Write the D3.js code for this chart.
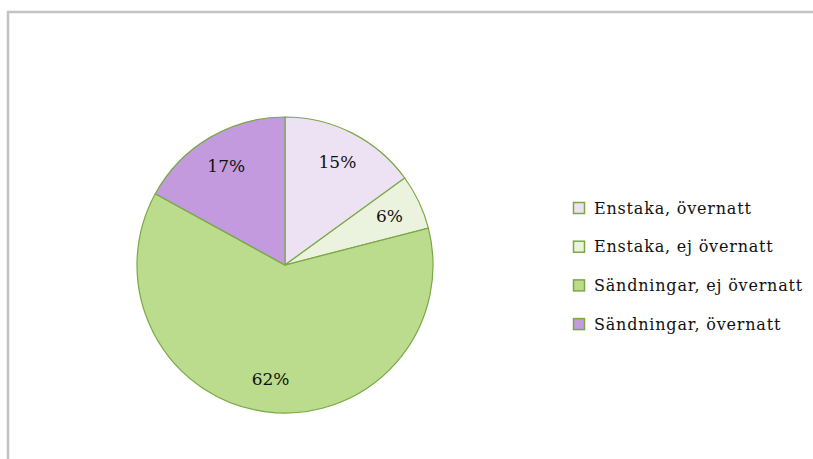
<!DOCTYPE html>
<html>
<head>
<meta charset="utf-8">
<script src="https://cdn.jsdelivr.net/npm/d3@7"></script>
<style>
body { margin: 0; background: #fff; }
svg { display: block; }
</style>
</head>
<body>
<div class="canvas"></div>
<script>
var categories = ["Enstaka, övernatt", "Enstaka, ej övernatt", "Sändningar, ej övernatt", "Sändningar, övernatt"];
var values = [15, 6, 62, 17];
var colors = ["#ece2f4", "#ebf3de", "#badc8c", "#c49ade"];

var width = 813, height = 459;
var cx = 285, cy = 265, rad = 148;

var svg = d3.select("div.canvas").append("svg")
	.attr("width", width)
	.attr("height", height);

// frame of the chart area (runs off the right and bottom)
svg.append("path")
	.attr("d", "M8," + (height + 5) + "V12H" + (width + 5))
	.attr("fill", "none")
	.attr("stroke", "#c3c3c3")
	.attr("stroke-width", 2.5);

var data = categories.map(function(c, i) { return {name: c, value: values[i], col: colors[i]}; });

var pie = d3.pie().sort(null).value(function(d) { return d.value; });
var arc = d3.arc().innerRadius(0).outerRadius(rad);
var label_arc = d3.arc().innerRadius(rad * 0.78).outerRadius(rad * 0.78);

var g = svg.append("g").attr("transform", "translate(" + cx + "," + cy + ")");

var arcs = pie(data);

g.selectAll("path.slice")
	.data(arcs)
	.enter().append("path")
	.attr("class", "slice")
	.attr("d", arc)
	.attr("fill", function(d) { return d.data.col; })
	.attr("stroke", "#79a845")
	.attr("stroke-width", 1.2);

g.selectAll("text.lbl")
	.data(arcs)
	.enter().append("text")
	.attr("class", "lbl")
	.attr("transform", function(d) { return "translate(" + label_arc.centroid(d) + ")"; })
	.attr("text-anchor", "middle")
	.attr("dy", "0.35em")
	.style("font-family", "'DejaVu Serif', serif")
	.style("font-size", "17px")
	.attr("fill", "#111")
	.text(function(d) { return d.data.value + "%"; });

// legend
var leg = svg.append("g").attr("transform", "translate(573,208)");
var item = leg.selectAll("g.item")
	.data(data)
	.enter().append("g")
	.attr("class", "item")
	.attr("transform", function(d, i) { return "translate(0," + (i * 38.7) + ")"; });

item.append("rect")
	.attr("x", 0.5)
	.attr("y", -5.5)
	.attr("width", 11)
	.attr("height", 11)
	.attr("fill", function(d) { return d.col; })
	.attr("stroke", "#79a845")
	.attr("stroke-width", 1.5);

item.append("text")
	.attr("x", 21)
	.attr("dy", "0.35em")
	.style("font-family", "'DejaVu Serif', serif")
	.style("font-size", "16px")
	.style("letter-spacing", "0.8px")
	.attr("fill", "#111")
	.text(function(d) { return d.name; });
</script>
</body>
</html>
